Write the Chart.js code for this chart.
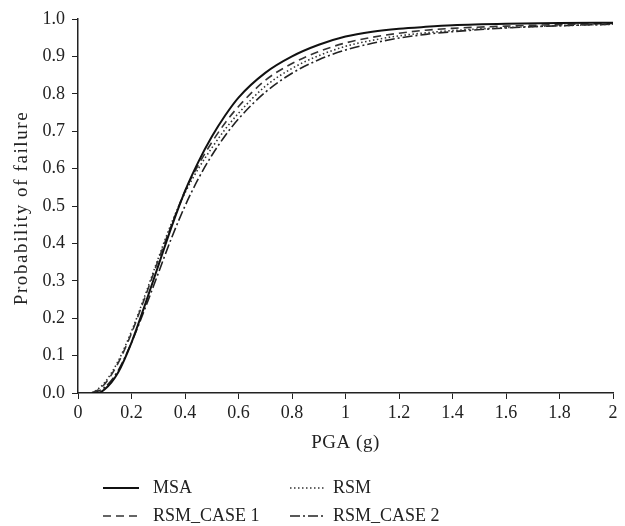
<!DOCTYPE html>
<html>
<head>
<meta charset="utf-8">
<script src="https://cdn.jsdelivr.net/npm/chart.js@4.4.1/dist/chart.umd.min.js"></script>
<style>
  body { margin: 0; background: #fff; }
  #wrap { width: 625px; height: 526px; }
</style>
</head>
<body>
<div id="wrap"><canvas id="chart" width="625" height="526"></canvas></div>
<script>
// PGA values (g) shared by all curves
const pga = [0.05, 0.07, 0.1, 0.15, 0.2, 0.25, 0.3, 0.35, 0.4, 0.45, 0.5, 0.55, 0.6, 0.7, 0.8, 0.9, 1.0, 1.1, 1.2, 1.3, 1.4, 1.6, 1.8, 2.0];

// Probability of failure
const msa      = [0, 0, 0.01, 0.055, 0.135, 0.235, 0.34, 0.445, 0.54, 0.618, 0.685, 0.742, 0.79, 0.856, 0.9, 0.931, 0.953, 0.966, 0.974, 0.979, 0.983, 0.987, 0.989, 0.99];
const rsm      = [0, 0.008, 0.028, 0.085, 0.165, 0.26, 0.36, 0.455, 0.535, 0.6, 0.655, 0.705, 0.748, 0.82, 0.868, 0.902, 0.927, 0.943, 0.955, 0.963, 0.969, 0.977, 0.982, 0.986];
const rsmCase1 = [0, 0.006, 0.024, 0.08, 0.16, 0.255, 0.355, 0.45, 0.54, 0.61, 0.67, 0.722, 0.766, 0.836, 0.881, 0.913, 0.936, 0.951, 0.962, 0.97, 0.975, 0.981, 0.985, 0.988];
const rsmCase2 = [0, 0.004, 0.015, 0.06, 0.135, 0.225, 0.32, 0.415, 0.5, 0.573, 0.635, 0.688, 0.733, 0.804, 0.855, 0.891, 0.917, 0.935, 0.949, 0.959, 0.966, 0.976, 0.982, 0.986];

const xTicks = [0, 0.2, 0.4, 0.6, 0.8, 1, 1.2, 1.4, 1.6, 1.8, 2];
const yTicks = [0, 0.1, 0.2, 0.3, 0.4, 0.5, 0.6, 0.7, 0.8, 0.9, 1.0];

const FONT = "'Liberation Serif', 'Times New Roman', serif";
const INK = "#222";

function pts(ys) {
  return pga.map((x, i) => ({ x: x, y: ys[i] }));
}

const series = [
  { label: "MSA",        data: msa,      color: "#111", width: 2,   dash: [] },
  { label: "RSM",        data: rsm,      color: "#333", width: 1.6, dash: [1.5, 2.5] },
  { label: "RSM_CASE 1", data: rsmCase1, color: "#333", width: 1.6, dash: [8, 5] },
  { label: "RSM_CASE 2", data: rsmCase2, color: "#222", width: 1.6, dash: [10, 3, 2, 3] }
];

// legend drawn as a 2 x 2 grid below the axis title
const legendOrder = [
  { i: 0, x: 103, y: 488 },
  { i: 1, x: 290, y: 488 },
  { i: 2, x: 103, y: 516 },
  { i: 3, x: 290, y: 516 }
];

const extras = {
  id: "extras",
  afterDraw(chart) {
    const ctx = chart.ctx;
    const area = chart.chartArea;
    ctx.save();

    // axis titles
    ctx.fillStyle = INK;
    ctx.textAlign = "center";
    ctx.textBaseline = "middle";
    ctx.font = "19px " + FONT;
    ctx.letterSpacing = "0.5px";
    ctx.fillText("PGA (g)", (area.left + area.right) / 2, 443);

    ctx.save();
    ctx.translate(22, 208);
    ctx.rotate(-Math.PI / 2);
    ctx.letterSpacing = "1.6px";
    ctx.fillText("Probability of failure", 0, 0);
    ctx.restore();

    // legend
    ctx.letterSpacing = "0px";
    ctx.textAlign = "left";
    legendOrder.forEach(item => {
      const s = series[item.i];
      ctx.beginPath();
      ctx.strokeStyle = s.color;
      ctx.lineWidth = s.width;
      ctx.setLineDash(s.dash);
      ctx.moveTo(item.x, item.y);
      ctx.lineTo(item.x + 36, item.y);
      ctx.stroke();
      ctx.setLineDash([]);
      ctx.font = "18px " + FONT;
      ctx.fillText(s.label, item.x + (item.i % 2 ? 43 : 50), item.y);
    });
    ctx.restore();
  }
};

new Chart(document.getElementById("chart"), {
  type: "line",
  data: {
    datasets: series.map(s => ({
      label: s.label,
      data: pts(s.data),
      borderColor: s.color,
      borderWidth: s.width,
      borderDash: s.dash,
      pointRadius: 0,
      fill: false,
      cubicInterpolationMode: "monotone"
    }))
  },
  options: {
    responsive: false,
    animation: false,
    layout: { padding: { top: 19, right: 12, left: 0, bottom: 0 } },
    plugins: {
      legend: { display: false },
      tooltip: { enabled: false }
    },
    scales: {
      x: {
        type: "linear",
        min: 0,
        max: 2,
        afterBuildTicks(scale) { scale.ticks = xTicks.map(v => ({ value: v })); },
        afterFit(scale) { scale.height = 526 - 19 - 374; },
        grid: { drawOnChartArea: false, tickLength: 6, color: INK },
        border: { color: INK, width: 1.5 },
        ticks: {
          color: INK,
          font: { family: FONT, size: 18 },
          padding: 3,
          maxRotation: 0,
          callback: v => String(Number(v.toFixed(1)))
        }
      },
      y: {
        min: 0,
        max: 1,
        afterBuildTicks(scale) { scale.ticks = yTicks.map(v => ({ value: v })); },
        afterFit(scale) { scale.width = 78; },
        grid: { drawOnChartArea: false, tickLength: 6, color: INK },
        border: { color: INK, width: 1.5 },
        ticks: {
          color: INK,
          font: { family: FONT, size: 18 },
          padding: 7,
          callback: v => v.toFixed(1)
        }
      }
    }
  },
  plugins: [extras]
});
</script>
</body>
</html>
